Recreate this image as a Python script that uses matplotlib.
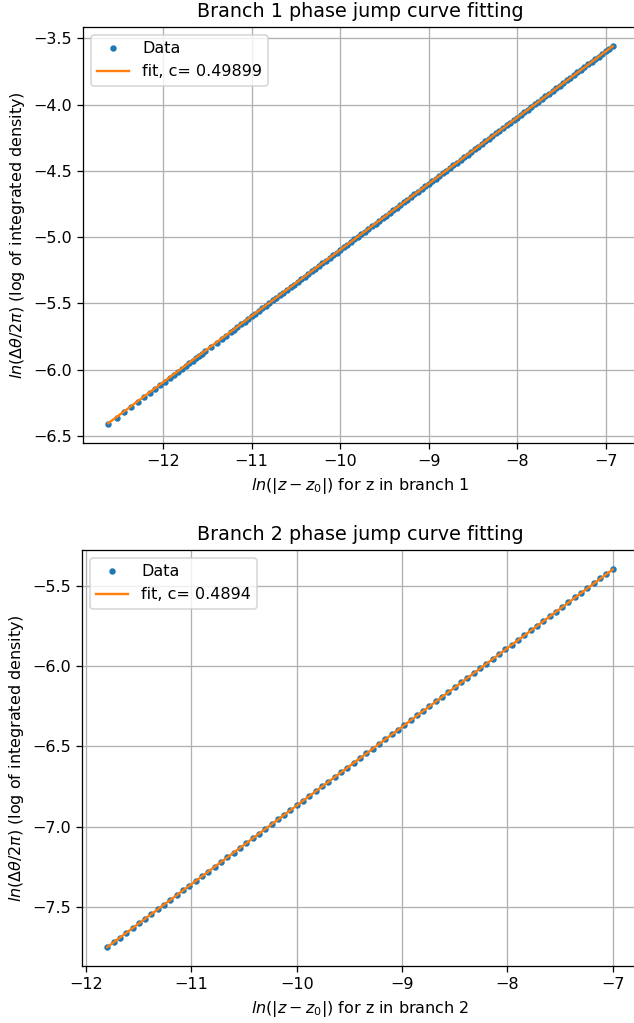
import numpy as np
import matplotlib
matplotlib.use("Agg")
import matplotlib.pyplot as plt

# Branch 1 data
x1 = [-12.62, -12.525, -12.438, -12.358, -12.284, -12.215, -12.15, -12.089, -12.032, -11.978,
      -11.927, -11.878, -11.832, -11.787, -11.745, -11.704, -11.664, -11.627, -11.59, -11.555,
      -11.521, -11.457, -11.396, -11.339, -11.285, -11.234,
      -11.20, -11.16, -11.12, -11.08, -11.04, -11.00, -10.96, -10.92, -10.88, -10.84,
      -10.80, -10.76, -10.72, -10.68, -10.64, -10.60, -10.56, -10.52, -10.48, -10.44,
      -10.40, -10.36, -10.32, -10.28, -10.24, -10.20, -10.16, -10.12, -10.08, -10.04,
      -10.00, -9.96, -9.92, -9.88, -9.84, -9.80, -9.76, -9.72, -9.68, -9.64,
      -9.60, -9.56, -9.52, -9.48, -9.44, -9.40, -9.36, -9.32, -9.28, -9.24,
      -9.20, -9.16, -9.12, -9.08, -9.04, -9.00, -8.96, -8.92, -8.88, -8.84,
      -8.80, -8.76, -8.72, -8.68, -8.64, -8.60, -8.56, -8.52, -8.48, -8.44,
      -8.40, -8.36, -8.32, -8.28, -8.24, -8.20, -8.16, -8.12, -8.08, -8.04,
      -8.00, -7.96, -7.92, -7.88, -7.84, -7.80, -7.76, -7.72, -7.68, -7.64,
      -7.60, -7.56, -7.52, -7.48, -7.44, -7.40, -7.36, -7.32, -7.28, -7.24,
      -7.20, -7.16, -7.12, -7.08, -7.04, -7.00, -6.96, -6.92]
y1 = [-6.410, -6.363, -6.319, -6.280, -6.243, -6.208, -6.176, -6.145, -6.117, -6.090,
      -6.064, -6.040, -6.017, -5.995, -5.974, -5.953, -5.933, -5.915, -5.896, -5.879,
      -5.862, -5.830, -5.800, -5.771, -5.744, -5.719,
      -5.698, -5.678, -5.658, -5.638, -5.618, -5.598, -5.578, -5.558, -5.538, -5.518,
      -5.498, -5.478, -5.458, -5.438, -5.418, -5.398, -5.378, -5.358, -5.338, -5.318,
      -5.298, -5.278, -5.258, -5.238, -5.218, -5.198, -5.178, -5.158, -5.138, -5.118,
      -5.098, -5.078, -5.058, -5.038, -5.018, -4.998, -4.978, -4.958, -4.938, -4.918,
      -4.898, -4.878, -4.858, -4.838, -4.818, -4.798, -4.778, -4.758, -4.738, -4.718,
      -4.698, -4.678, -4.658, -4.638, -4.618, -4.598, -4.578, -4.558, -4.538, -4.518,
      -4.498, -4.478, -4.458, -4.438, -4.418, -4.398, -4.378, -4.358, -4.338, -4.318,
      -4.298, -4.278, -4.258, -4.238, -4.218, -4.198, -4.178, -4.158, -4.138, -4.118,
      -4.098, -4.078, -4.058, -4.038, -4.018, -3.998, -3.978, -3.958, -3.938, -3.918,
      -3.898, -3.878, -3.858, -3.838, -3.818, -3.798, -3.778, -3.758, -3.738, -3.718,
      -3.698, -3.678, -3.658, -3.638, -3.618, -3.598, -3.578, -3.558]
c1, b1 = 0.49899, -0.107

# Branch 2 data
x2 = [-11.80, -11.74, -11.68, -11.62, -11.56, -11.50, -11.44, -11.38, -11.32, -11.26,
      -11.20, -11.14, -11.08, -11.02, -10.96, -10.90, -10.84, -10.78, -10.72, -10.66,
      -10.60, -10.54, -10.48, -10.42, -10.36, -10.30, -10.24, -10.18, -10.12, -10.06,
      -10.00, -9.94, -9.88, -9.82, -9.76, -9.70, -9.64, -9.58, -9.52, -9.46,
      -9.40, -9.34, -9.28, -9.22, -9.16, -9.10, -9.04, -8.98, -8.92, -8.86,
      -8.80, -8.74, -8.68, -8.62, -8.56, -8.50, -8.44, -8.38, -8.32, -8.26,
      -8.20, -8.14, -8.08, -8.02, -7.96, -7.90, -7.84, -7.78, -7.72, -7.66,
      -7.60, -7.54, -7.48, -7.42, -7.36, -7.30, -7.24, -7.18, -7.12, -7.06,
      -7.00]
y2 = [-7.749, -7.720, -7.690, -7.661, -7.631, -7.602, -7.573, -7.543, -7.514, -7.484,
      -7.455, -7.426, -7.396, -7.367, -7.337, -7.308, -7.279, -7.249, -7.220, -7.190,
      -7.161, -7.132, -7.102, -7.073, -7.043, -7.014, -6.985, -6.955, -6.926, -6.896,
      -6.867, -6.838, -6.808, -6.779, -6.749, -6.720, -6.691, -6.661, -6.632, -6.602,
      -6.573, -6.544, -6.514, -6.485, -6.455, -6.426, -6.397, -6.367, -6.338, -6.308,
      -6.279, -6.250, -6.220, -6.191, -6.161, -6.132, -6.103, -6.073, -6.044, -6.014,
      -5.985, -5.956, -5.926, -5.897, -5.867, -5.838, -5.809, -5.779, -5.750, -5.720,
      -5.691, -5.662, -5.632, -5.603, -5.573, -5.544, -5.515, -5.485, -5.456, -5.426,
      -5.397]
c2, b2 = 0.4894, -1.974

# the reference was drawn a bit larger and scaled down, hence dpi 115
dpi = 115
fig = plt.figure(figsize=(634 / dpi, 1023 / dpi), dpi=dpi)
ax1 = fig.add_axes([0.1309, 0.5670, 0.8754, 0.4066])
ax2 = fig.add_axes([0.1293, 0.0557, 0.8770, 0.4066])

x1 = np.array(x1)
ax1.plot(x1, y1, '.', label='Data')
ax1.plot(x1, c1 * x1 + b1, label='fit, c= ' + str(c1))
ax1.set_title('Branch 1 phase jump curve fitting')
ax1.set_xlabel(r'$ln(|z-z_0|)$ for z in branch 1')
ax1.set_ylabel(r'$ln(\mathit{\Delta}\theta/2\pi)$ (log of integrated density)')
ax1.grid()
ax1.legend(loc='upper left')

x2 = np.array(x2)
ax2.plot(x2, y2, '.', label='Data')
ax2.plot(x2, c2 * x2 + b2, label='fit, c= ' + str(c2))
ax2.set_title('Branch 2 phase jump curve fitting')
ax2.set_xlabel(r'$ln(|z-z_0|)$ for z in branch 2')
ax2.set_ylabel(r'$ln(\mathit{\Delta}\theta/2\pi)$ (log of integrated density)')
ax2.grid()
ax2.legend(loc='upper left')

fig.savefig('out.png', dpi=dpi)
